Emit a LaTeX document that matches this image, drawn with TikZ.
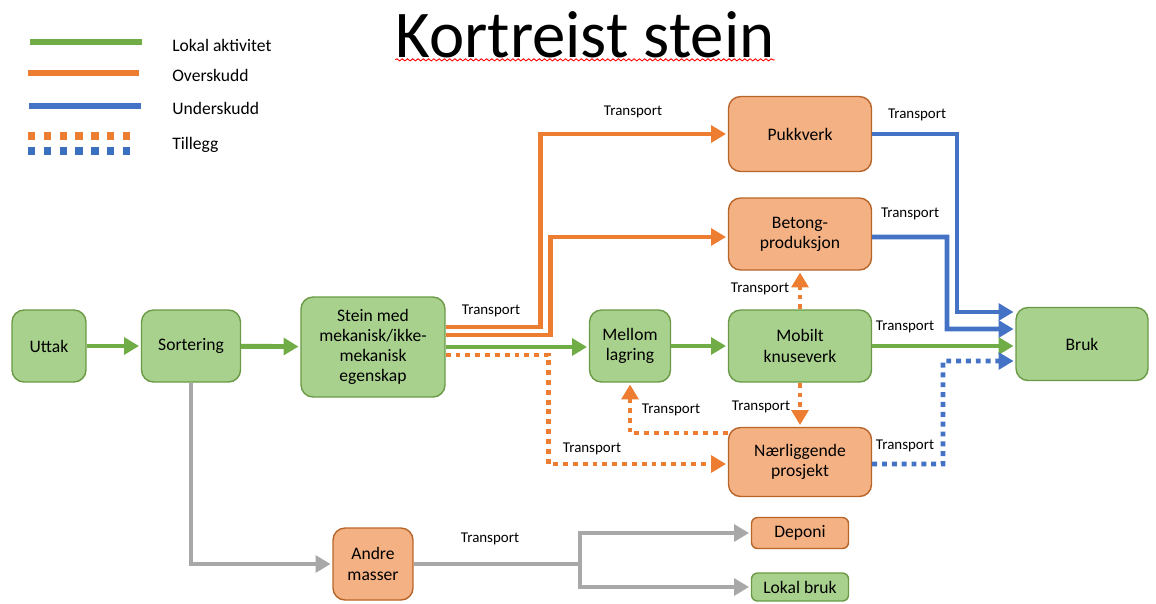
\documentclass[tikz,border=0pt]{standalone}
\usepackage{fontspec}
\setmainfont{Carlito}
\usetikzlibrary{arrows.meta,decorations.pathmorphing}
\definecolor{gfill}{HTML}{A9D18E}
\definecolor{gdraw}{HTML}{6A9A45}
\definecolor{ofill}{HTML}{F4B183}
\definecolor{odraw}{HTML}{B8652A}
\definecolor{gline}{HTML}{70AD47}
\definecolor{oline}{HTML}{ED7D31}
\definecolor{bline}{HTML}{4472C4}
\definecolor{bdot}{HTML}{3B70C0}
\definecolor{grline}{HTML}{A8A8A8}
\tikzset{
  box/.style={rectangle, rounded corners=0.24cm, line width=0.8pt, align=center,
    font=\fontsize{10}{11.5}\selectfont, inner sep=2pt},
  gbox/.style={box, fill=gfill, draw=gdraw},
  obox/.style={box, fill=ofill, draw=odraw},
  flow/.style={line width=2.8pt, -{Triangle[length=8.5pt,width=9.5pt]}, shorten >=1pt},
  dots/.style={dash pattern=on 2.8pt off 2.8pt},
  lbl/.style={font=\fontsize{8.5}{10}\selectfont, inner sep=0pt},
  legtxt/.style={font=\fontsize{10}{12}\selectfont, anchor=west, inner sep=0pt},
  legline/.style={line width=3.4pt}
}
\begin{document}
\begin{tikzpicture}[x=0.02cm,y=-0.02cm]
\useasboundingbox (0,0) rectangle (1156,603);
% title
\node[anchor=base, font=\fontsize{38}{40}\selectfont, inner sep=0pt] (title) at (585,57) {Kortreist stein};
\draw[red, line width=0.5pt, decorate, decoration={snake, amplitude=0.6pt, segment length=3pt}] (title.south west) ++(0,2) coordinate (sq1) -- (sq1 -| title.south east);
% legend
\coordinate (l1a) at (30,42); \coordinate (l1b) at (142,42);
\coordinate (l2a) at (28,73); \coordinate (l2b) at (139,73);
\coordinate (l3a) at (29,106); \coordinate (l3b) at (141,106);
\coordinate (l4a) at (28,136); \coordinate (l4b) at (136,136);
\coordinate (l5a) at (28,151); \coordinate (l5b) at (136,151);
\draw[legline, gline] (l1a) -- (l1b);
\draw[legline, oline] (l2a) -- (l2b);
\draw[legline, bline] (l3a) -- (l3b);
\draw[line width=4pt, oline, dash pattern=on 4.2pt off 4.8pt] (l4a) -- (l4b);
\draw[line width=4pt, bdot, dash pattern=on 4.2pt off 4.8pt] (l5a) -- (l5b);
\node[legtxt] (t1) at (172,45) {Lokal aktivitet};
\node[legtxt] (t2) at (172,75) {Overskudd};
\node[legtxt] (t3) at (172,108) {Underskudd};
\node[legtxt] (t4) at (172,145) {Tillegg};
% nodes
\node[gbox, minimum width=1.48cm, minimum height=1.44cm] (uttak) at (49,346) {Uttak};
\node[gbox, minimum width=1.98cm, minimum height=1.44cm] (sort) at (191,346) {Sortering};
\node[gbox, minimum width=2.88cm, minimum height=2.0cm] (stein) at (373,347) {Stein med\\mekanisk/ikke-\\mekanisk\\egenskap};
\node[gbox, minimum width=1.62cm, minimum height=1.44cm] (mel) at (630,346) {Mellom\\lagring};
\node[gbox, minimum width=2.86cm, minimum height=1.44cm] (mob) at (800,346) {Mobilt\\knuseverk};
\node[gbox, minimum width=2.64cm, minimum height=1.46cm] (bruk) at (1082,344) {Bruk};
\node[obox, minimum width=2.86cm, minimum height=1.5cm] (pukk) at (800,134) {Pukkverk};
\node[obox, minimum width=2.86cm, minimum height=1.44cm] (bet) at (800,234) {Betong-\\produksjon};
\node[obox, minimum width=2.86cm, minimum height=1.38cm] (naer) at (800,462) {Nærliggende\\prosjekt};
\node[obox, minimum width=1.6cm, minimum height=1.44cm] (andre) at (373,564) {Andre\\masser};
\node[obox, minimum width=1.94cm, minimum height=0.62cm, rounded corners=0.12cm] (dep) at (800,533) {Deponi};
\node[gbox, minimum width=1.94cm, minimum height=0.56cm, rounded corners=0.12cm] (lok) at (800,587) {Lokal bruk};
% green flows
\draw[flow, gline] (uttak) -- (sort);
\draw[flow, gline] (sort) -- (stein);
\draw[flow, gline] (stein.east) -- (stein.east -| mel.west);
\draw[flow, gline] (mel) -- (mob);
\draw[flow, gline] (mob.east) -- (mob.east -| bruk.west);
% orange flows
\draw[flow, oline] ([yshift=0.4cm]stein.east) -- ++(95,0) |- (pukk.west);
\draw[flow, oline] ([yshift=0.24cm]stein.east) -- ++(105,0) |- ([yshift=-0.06cm]bet.west);
\draw[flow, oline, dots] ([yshift=-0.16cm]stein.east) -- ++(103,0) |- ([yshift=-0.04cm]naer.west);
\draw[flow, oline, dots] (mob.north) -- (bet.south);
\draw[flow, oline, dots] (mob.south) -- (naer.north);
\draw[flow, oline, dots] ([yshift=0.58cm]naer.west) -| (mel.south);
% blue flows
\draw[flow, bline] (pukk.east) -- (957,134) |- ([yshift=0.64cm]bruk.west);
\draw[flow, bline] ([yshift=-0.06cm]bet.east) -- (947,237) |- ([yshift=0.3cm]bruk.west);
\draw[flow, bline, dots] ([yshift=-0.04cm]naer.east) -- (943,464) |- ([yshift=-0.34cm]bruk.west);
% gray flows
\draw[flow, grline] (sort.south) |- (andre.west);
\draw[flow, grline] (andre.east) -- (580,564) |- (dep.west);
\draw[flow, grline] (580,564) |- (lok.west);
% labels
\node[lbl] (tr1) at (633,112) {Transport};
\node[lbl] (tr2) at (491,311) {Transport};
\node[lbl] (tr3) at (917,115) {Transport};
\node[lbl] (tr4) at (910,214) {Transport};
\node[lbl] (tr5) at (760,289) {Transport};
\node[lbl] (tr6) at (905,327) {Transport};
\node[lbl] (tr7) at (761,407) {Transport};
\node[lbl] (tr8) at (671,410) {Transport};
\node[lbl] (tr9) at (592,449) {Transport};
\node[lbl] (tr10) at (905,446) {Transport};
\node[lbl] (tr11) at (490,539) {Transport};
\end{tikzpicture}
\end{document}
